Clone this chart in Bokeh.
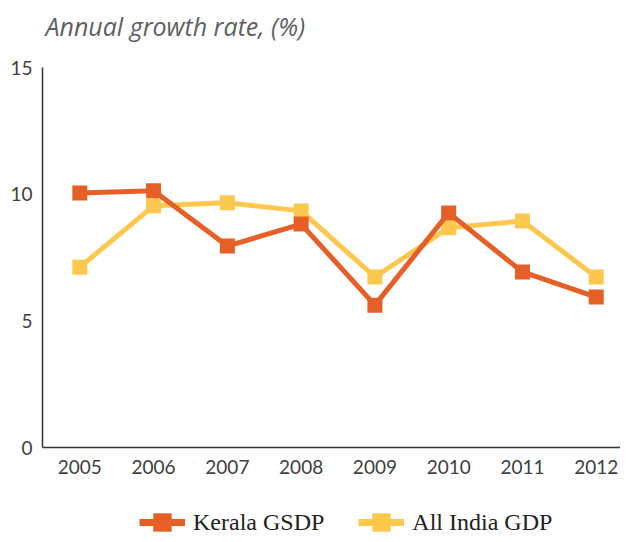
from bokeh.plotting import figure
from bokeh.models import Range1d, FixedTicker, Legend, LegendItem, Label
from bokeh.layouts import column
from bokeh.embed import file_html
from bokeh.resources import INLINE

years = [2005, 2006, 2007, 2008, 2009, 2010, 2011, 2012]
kerala = [10.05, 10.13, 7.95, 8.82, 5.62, 9.26, 6.93, 5.94]
india = [7.12, 9.54, 9.66, 9.34, 6.73, 8.67, 8.94, 6.73]
y_ticks = [0, 5, 10, 15]
series_names = ["Kerala GSDP", "All India GDP"]
title_text = "Annual growth rate, (%)"

ORANGE = "#E55F26"
YELLOW = "#FEC84F"


def blank(h):
    f = figure(width=620, height=h, output_backend="svg", toolbar_location=None,
               x_range=Range1d(0, 1), y_range=Range1d(0, 1),
               min_border_left=42, min_border_right=0, min_border_top=0, min_border_bottom=0)
    f.axis.visible = False
    f.grid.visible = False
    f.outline_line_color = None
    return f


# title strip
pt = blank(45)
pt.add_layout(Label(x=3, y=20, x_units="screen", y_units="screen", text=title_text,
                    text_font="Open Sans", text_font_style="italic", text_font_size="25px",
                    text_color="#5f5f5f", text_baseline="alphabetic"))

# main chart
p = figure(width=620, height=445, output_backend="svg", toolbar_location=None,
           x_range=Range1d(2004.494, 2012.329), y_range=Range1d(0, 15),
           min_border_left=42, min_border_right=0, min_border_top=22, min_border_bottom=43)
p.outline_line_color = None
p.xgrid.visible = False
p.ygrid.visible = False

for ax in (p.xaxis[0], p.yaxis[0]):
    ax.axis_line_color = "#333333"
    ax.axis_line_width = 1.5
    ax.major_tick_line_color = None
    ax.minor_tick_line_color = None
    ax.major_tick_out = 0
    ax.major_tick_in = 0
    ax.major_label_text_font = "Lato"
    ax.major_label_text_font_size = "19px"
    ax.major_label_text_color = "#404040"

p.xaxis[0].ticker = FixedTicker(ticks=years)
p.xaxis[0].major_label_standoff = 12
p.yaxis[0].ticker = FixedTicker(ticks=y_ticks)
p.yaxis[0].major_label_standoff = 10

p.line(years, india, line_color=YELLOW, line_width=5)
p.scatter(years, india, marker="square", size=15, fill_color=YELLOW, line_color=None)
p.line(years, kerala, line_color=ORANGE, line_width=5)
p.scatter(years, kerala, marker="square", size=15, fill_color=ORANGE, line_color=None)

# legend strip: same series drawn outside its (clipped) visible range, only the legend shows
p2 = blank(44)
lk = p2.line(years, kerala, line_color=ORANGE, line_width=7)
sk = p2.scatter(years, kerala, marker="square", fill_color=ORANGE, line_color=None)
li = p2.line(years, india, line_color=YELLOW, line_width=7)
si = p2.scatter(years, india, marker="square", fill_color=YELLOW, line_color=None)

legend = Legend(items=[LegendItem(label=series_names[0], renderers=[lk, sk]),
                       LegendItem(label=series_names[1], renderers=[li, si])],
                orientation="horizontal", location=(97, -11),
                label_text_font="Liberation Serif", label_text_font_size="24px",
                label_text_color="#222222", glyph_width=46, glyph_height=46,
                spacing=34, padding=0, margin=0, border_line_color=None,
                background_fill_alpha=0, label_standoff=8)
p2.add_layout(legend, "center")

open("out.html", "w").write(file_html(column(pt, p, p2, spacing=0), INLINE))
